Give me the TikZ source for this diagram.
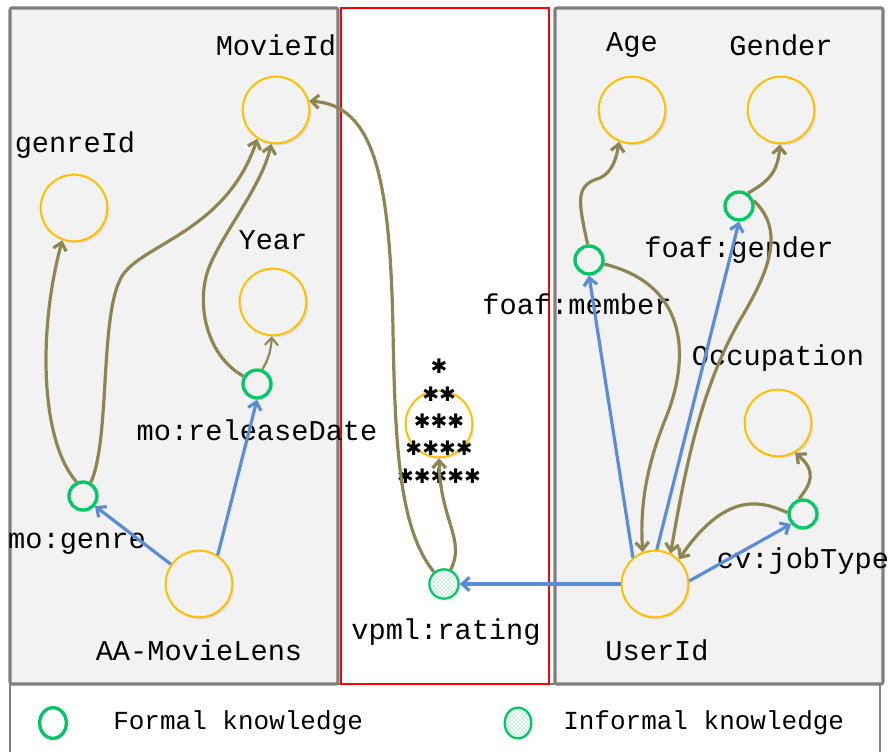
\documentclass[tikz,border=0pt]{standalone}
\usepackage{fontspec}
\setmainfont{Liberation Mono}
\newfontfamily\starfont{DejaVu Sans}
\usetikzlibrary{arrows.meta,patterns,shadows,shapes.geometric,positioning}
\definecolor{panelbg}{HTML}{F2F2F2}
\definecolor{panelline}{HTML}{7F7F7F}
\definecolor{conceptc}{HTML}{FFC000}
\definecolor{formalc}{HTML}{00C864}
\definecolor{linkc}{HTML}{8E8652}
\definecolor{relc}{HTML}{5B8DD6}
\tikzset{
  concept/.style={circle, draw=conceptc, line width=1.5pt, fill=panelbg, minimum size=50pt, inner sep=0pt,
    drop shadow={opacity=0.18, shadow xshift=1.5pt, shadow yshift=-1.5pt}},
  formal/.style={circle, draw=formalc, line width=2.5pt, fill=panelbg, minimum size=21pt, inner sep=0pt},
  informal/.style={circle, draw=formalc, line width=1.7pt, pattern=crosshatch dots, pattern color=formalc, minimum size=22pt, inner sep=0pt},
  lab/.style={font=\fontsize{21.5}{24}\selectfont, inner sep=0pt},
  leg/.style={font=\fontsize{19.5}{22}\selectfont, inner sep=0pt, anchor=west},
  stars/.style={font=\starfont\bfseries\fontsize{15}{15}\selectfont, inner sep=0pt},
  link/.style={draw=linkc, line width=2.4pt, -{Straight Barb[length=5.5pt,width=10pt]}},
  rel/.style={draw=relc, line width=2.4pt, -{Straight Barb[length=5.5pt,width=10pt]}}
}

\begin{document}
\begin{tikzpicture}[x=0.75pt, y=-0.75pt]
	\useasboundingbox (0,0) rectangle (891,752);
	% panels
	\draw[panelline, line width=1pt, fill=white] (10,684) -- (880,684) -- (880,770) -- (10,770) -- cycle;
	\draw[panelline, line width=2.3pt, fill=panelbg, rounded corners=1.5pt] (10,8) rectangle (338,684);
	\draw[red, line width=2pt, fill=white] (341,8) rectangle (549,684);
	\draw[panelline, line width=2.3pt, fill=panelbg, rounded corners=1.5pt] (555,8) rectangle (883,684);

	% movie side
	\node (MID)	[concept]	at (276,110)	{};
	\node (GID)	[concept]	at (74,208)		{};
	\node (YR)	[concept]	at (273,302)	{};
	\node (RD)	[formal]	at (257,384)	{};
	\node (MG)	[formal]	at (83,496)		{};
	\node (AA)	[concept]	at (199,584)	{};
	\node		[lab]		at (276,45)		{MovieId};
	\node		[lab]		at (75,145)		{genreId};
	\node		[lab]		at (273,240)	{Year};
	\node		[lab]		at (257,430)	{mo:releaseDate};
	\node		[lab]		at (77,544)		{mo:genre};
	\node		[lab]		at (199,650)	{AA-MovieLens};

	% rating
	\node (VR)	[concept, fill=white]	at (439,424)	{};
	\node (RT)	[informal]	at (444,584)	{};
	\node		[lab]		at (446,632)	{vpml:rating};
	\foreach \y/\s in {366/✱, 394/✱✱, 421/✱✱✱, 448/✱✱✱✱, 476/✱✱✱✱✱}
		\node[stars] at (439,\y) {\s};

	% user side
	\node (AGE)	[concept]	at (632,110)	{};
	\node (GEN)	[concept]	at (781,110)	{};
	\node (FM)	[formal]	at (589,260)	{};
	\node (FG)	[formal]	at (739,206)	{};
	\node (OCC)	[concept]	at (778,423)	{};
	\node (JT)	[formal]	at (803,514)	{};
	\node (UID)	[concept]	at (655,584)	{};
	\node		[lab]		at (632,45)		{Age};
	\node		[lab]		at (781,45)		{Gender};
	\node		[lab]		at (577,304)	{foaf:member};
	\node		[lab]		at (739,250)	{foaf:gender};
	\node		[lab]		at (778,358)	{Occupation};
	\node		[lab]		at (803,561)	{cv:jobType};
	\node		[lab]		at (657,650)	{UserId};

	% links
	\draw[link]	(MG.115) .. controls (40,440) and (38,330) .. (GID.250);
	\draw[link]	(MG.60) .. controls (110,440) and (100,320) .. (120,280) .. controls (135,245) and (225,235) .. (MID.237);
	\draw[link]	(RD.150) .. controls (205,355) and (195,300) .. (210,265) .. controls (225,230) and (262,185) .. (MID.262);
	\draw[link, line width=1.6pt]	(RD.70) .. controls (267,362) and (271,352) .. (YR.268);
	\draw[link]	(RT.130) .. controls (400,530) and (395,450) .. (393,330) .. controls (390,180) and (375,105) .. (MID.15);
	\draw[link]	(RT.65) .. controls (466,540) and (440,520) .. (VR.south);
	\draw[link]	(FM.-15) .. controls (690,285) and (690,360) .. (665,420) .. controls (645,470) and (640,510) .. (UID.111);
	\draw[link]	(FG.20) .. controls (785,230) and (770,270) .. (740,320) .. controls (700,390) and (685,470) .. (UID.63);
	\draw[link]	(FM.95) .. controls (578,200) and (575,185) .. (600,178) .. controls (612,172) and (616,160) .. (AGE.248);
	\draw[link]	(FG.55) .. controls (765,183) and (778,175) .. (GEN.268);
	\draw[link]	(JT.175) .. controls (760,500) and (725,492) .. (UID.46);
	\draw[link]	(JT.105) .. controls (810,485) and (818,472) .. (OCC.-60);
	\draw[rel]	(AA.145) -- (MG.-40);
	\draw[rel]	(AA.57) -- (RD.south);
	\draw[rel]	(UID.west) -- (RT.east);
	\draw[rel]	(UID.130) -- (FM.south);
	\draw[rel]	(UID.87) -- (FG.south);
	\draw[rel]	(UID.5) -- (JT.220);

	% legend
	\node (LF)	[formal, ellipse, fill=white, minimum width=20pt, minimum height=23pt]	at (53,723)	{};
	\node (LI)	[informal, ellipse, minimum width=20pt, minimum height=23pt]	at (518,723)	{};
	\node		[leg]		at (113,723)	{Formal knowledge};
	\node		[leg]		at (563,723)	{Informal knowledge};
\end{tikzpicture}
\end{document}
